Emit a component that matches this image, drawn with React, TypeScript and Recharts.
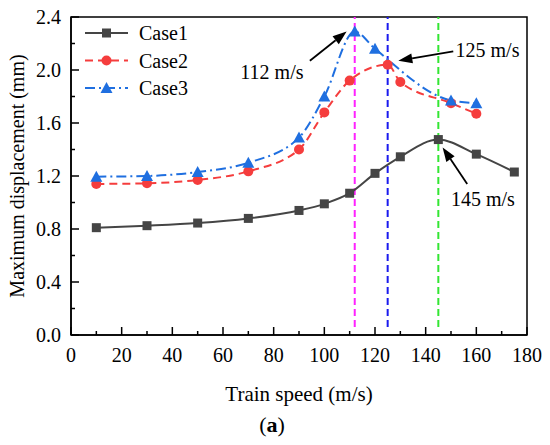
import React from "react";
import {
  LineChart,
  Line,
  XAxis,
  YAxis,
  Legend,
  Label,
  ReferenceLine,
  ReferenceDot,
  ReferenceArea,
} from "recharts";

// speeds and displacements
const speed1 = [10, 30, 50, 70, 90, 100, 110, 120, 130, 145, 160, 175];
const case1 = [0.81, 0.825, 0.845, 0.88, 0.94, 0.99, 1.07, 1.22, 1.345, 1.475, 1.365, 1.23];

const speed2 = [10, 30, 50, 70, 90, 100, 110, 125, 130, 150, 160];
const case2 = [1.14, 1.145, 1.17, 1.235, 1.4, 1.68, 1.92, 2.04, 1.91, 1.75, 1.67];

const speed3 = [10, 30, 50, 70, 90, 100, 112, 120, 150, 160];
const case3 = [1.195, 1.2, 1.23, 1.3, 1.49, 1.8, 2.29, 2.16, 1.77, 1.75];

const xTicks = [0, 10, 20, 30, 40, 50, 60, 70, 80, 90, 100, 110, 120, 130, 140, 150, 160, 170, 180];
const yTicks = [0, 0.2, 0.4, 0.6, 0.8, 1.0, 1.2, 1.4, 1.6, 1.8, 2.0, 2.2, 2.4];

const criticalSpeeds = [112, 125, 145];
const criticalColors = ["#ff22ff", "#1a1aee", "#33e633"];

const annotationLabels = ["112 m/s", "125 m/s", "145 m/s"];
// text centre and arrow tail/head, in data units
const annotationLayout = [
  { tx: 79.3, ty: 1.985, from: { x: 94.3, y: 2.07 }, to: { x: 108.8, y: 2.29 } },
  { tx: 164.4, ty: 2.15, from: { x: 150.9, y: 2.14 }, to: { x: 129.2, y: 2.07 } },
  { tx: 162.6, ty: 1.026, from: { x: 156.4, y: 1.14 }, to: { x: 146.7, y: 1.415 } },
];

const FONT = '"Liberation Serif", "Times New Roman", serif';
const GRAY = "#454545";
const RED = "#f53d3d";
const BLUE = "#1f6fe0";

const toPoints = (xs: number[], ys: number[]) => xs.map((x, i) => ({ x, v: ys[i] }));
const data1 = toPoints(speed1, case1);
const data2 = toPoints(speed2, case2);
const data3 = toPoints(speed3, case3);

const Square = ({ cx, cy, fill }: any) => (
  <rect x={cx - 4.5} y={cy - 4.5} width={9} height={9} fill={fill} />
);
const Circle = ({ cx, cy, fill }: any) => <circle cx={cx} cy={cy} r={5} fill={fill} />;
const Triangle = ({ cx, cy, fill }: any) => (
  <path d={`M${cx},${cy - 6} L${cx + 6},${cy + 5} L${cx - 6},${cy + 5} Z`} fill={fill} />
);

const XTick = ({ x, y, payload }: any) => {
  const major = payload.value % 20 === 0;
  return (
    <g>
      <line x1={x} x2={x} y1={y} y2={y - (major ? 8 : 4)} stroke="#000" strokeWidth={1.5} />
      {major && (
        <text x={x} y={y + 27} textAnchor="middle" fontSize={20} fontFamily={FONT} fill="#000">
          {payload.value}
        </text>
      )}
    </g>
  );
};

const YTick = ({ x, y, payload }: any) => {
  const major = Math.round(payload.value * 10) % 4 === 0;
  return (
    <g>
      <line x1={x} x2={x + (major ? 8 : 4)} y1={y} y2={y} stroke="#000" strokeWidth={1.5} />
      {major && (
        <text x={x - 10} y={y + 7} textAnchor="end" fontSize={20} fontFamily={FONT} fill="#000">
          {payload.value.toFixed(1)}
        </text>
      )}
    </g>
  );
};

const Arrow = ({ x1, y1, x2, y2 }: any) => {
  const a = Math.atan2(y2 - y1, x2 - x1);
  const len = 14;
  const w = 5;
  const bx = x2 - len * Math.cos(a);
  const by = y2 - len * Math.sin(a);
  const px = -Math.sin(a) * w;
  const py = Math.cos(a) * w;
  return (
    <g>
      <line x1={x1} y1={y1} x2={bx} y2={by} stroke="#000" strokeWidth={1.8} />
      <path d={`M${x2},${y2} L${bx + px},${by + py} L${bx - px},${by - py} Z`} fill="#000" />
    </g>
  );
};

const legendRows = [
  { name: "Case1", color: GRAY, dash: undefined, Marker: Square },
  { name: "Case2", color: RED, dash: "8 5", Marker: Circle },
  { name: "Case3", color: BLUE, dash: "10 4 2 4", Marker: Triangle },
];

const LegendBox = () => (
  <svg width={140} height={85}>
    {legendRows.map((r, i) => {
      const cy = 15 + i * 27.5;
      return (
        <g key={r.name}>
          <line x1={5} x2={48} y1={cy} y2={cy} stroke={r.color} strokeWidth={2} strokeDasharray={r.dash} />
          <r.Marker cx={26.5} cy={cy} fill={r.color} />
          <text x={59} y={cy + 7} fontSize={20} fontFamily={FONT} fill="#000">
            {r.name}
          </text>
        </g>
      );
    })}
  </svg>
);

export default function App() {
  return (
    <div style={{ position: "absolute", left: 0, top: 0, width: 550, height: 445, background: "#fff" }}>
      <LineChart width={550} height={445} margin={{ top: 17, right: 23, bottom: 80, left: 0 }}>
        <XAxis
          dataKey="x"
          type="number"
          domain={[0, 180]}
          ticks={xTicks}
          interval={0}
          tickSize={0}
          tickMargin={0}
          tickLine={false}
          tick={<XTick />}
          height={30}
          axisLine={{ stroke: "#000", strokeWidth: 1.5 }}
        >
          <Label
            content={({ viewBox }: any) => (
              <g>
                <text
                  x={viewBox.x + viewBox.width / 2}
                  y={viewBox.y + 66}
                  textAnchor="middle"
                  fontSize={21}
                  fontFamily={FONT}
                  fill="#000"
                >
                  Train speed (m/s)
                </text>
                <text x={272} y={viewBox.y + 97} textAnchor="middle" fontSize={22} fontFamily={FONT} fill="#000">
                  (<tspan fontWeight="bold">a</tspan>)
                </text>
              </g>
            )}
          />
        </XAxis>
        <YAxis
          type="number"
          domain={[0, 2.4]}
          ticks={yTicks}
          interval={0}
          width={71}
          tickSize={0}
          tickMargin={0}
          tickLine={false}
          tick={<YTick />}
          axisLine={{ stroke: "#000", strokeWidth: 1.5 }}
        >
          <Label
            content={({ viewBox }: any) => {
              const cy = viewBox.y + viewBox.height / 2;
              return (
                <text
                  x={24}
                  y={cy}
                  transform={`rotate(-90 24 ${cy})`}
                  textAnchor="middle"
                  fontSize={20}
                  fontFamily={FONT}
                  fill="#000"
                >
                  Maximum displacement (mm)
                </text>
              );
            }}
          />
        </YAxis>

        {criticalSpeeds.map((s, i) => (
          <ReferenceLine
            key={s}
            segment={[
              { x: s, y: 0.06 },
              { x: s, y: 2.4 },
            ]}
            stroke={criticalColors[i]}
            strokeWidth={2}
            strokeDasharray="7 4"
          />
        ))}

        <Line
          data={data1}
          dataKey="v"
          name="Case1"
          type="monotone"
          stroke={GRAY}
          strokeWidth={2}
          dot={(p: any) => <Square key={`s${p.index}`} cx={p.cx} cy={p.cy} fill={GRAY} />}
          isAnimationActive={false}
        />
        <Line
          data={data2}
          dataKey="v"
          name="Case2"
          type="monotone"
          stroke={RED}
          strokeWidth={2}
          strokeDasharray="8 5"
          dot={(p: any) => <Circle key={`c${p.index}`} cx={p.cx} cy={p.cy} fill={RED} />}
          isAnimationActive={false}
        />
        <Line
          data={data3}
          dataKey="v"
          name="Case3"
          type="monotone"
          stroke={BLUE}
          strokeWidth={2}
          strokeDasharray="10 4 2 4"
          dot={(p: any) => <Triangle key={`t${p.index}`} cx={p.cx} cy={p.cy} fill={BLUE} />}
          isAnimationActive={false}
        />

        {annotationLayout.map((a, i) => (
          <ReferenceLine key={`arr${i}`} segment={[a.from, a.to]} shape={(p: any) => <Arrow {...p} />} />
        ))}
        {annotationLayout.map((a, i) => (
          <ReferenceDot
            key={`lab${i}`}
            x={a.tx}
            y={a.ty}
            r={1}
            fill="none"
            stroke="none"
            label={{ value: annotationLabels[i], position: "center", fontSize: 20, fontFamily: FONT, fill: "#000" }}
          />
        ))}

        <ReferenceArea x1={0} x2={180} y1={0} y2={2.4} fill="none" stroke="#000" strokeWidth={1.5} />

        <Legend
          layout="vertical"
          align="center"
          verticalAlign="middle"
          content={<LegendBox />}
          wrapperStyle={{ top: 18, left: 80, width: 140, height: 85 }}
        />
      </LineChart>
    </div>
  );
}
